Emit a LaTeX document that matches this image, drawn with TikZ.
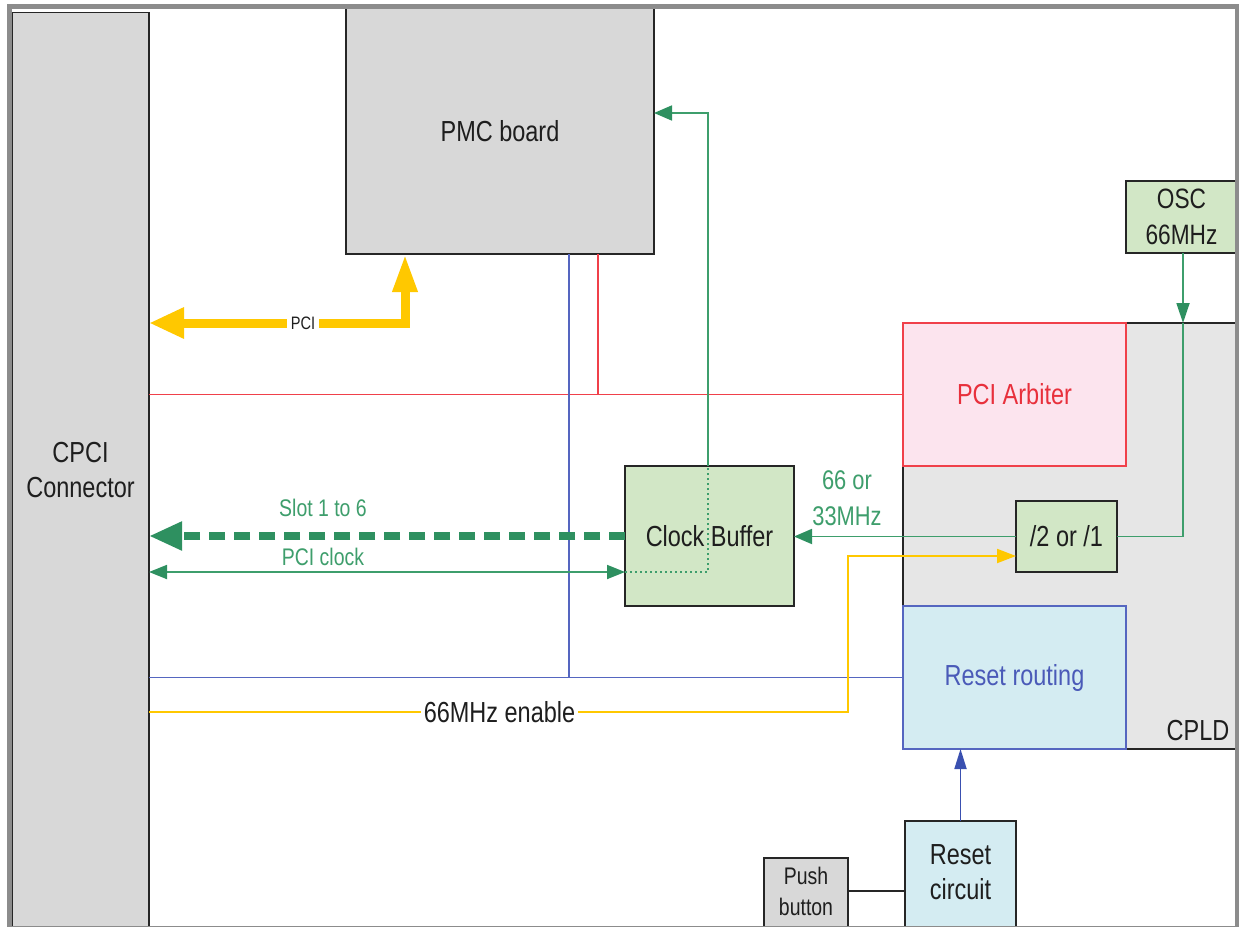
\documentclass[tikz,border=0pt]{standalone}
\usepackage{fontspec}
\setmainfont{Liberation Sans}[FakeStretch=0.81]
\usetikzlibrary{arrows.meta}
\definecolor{boxgray}{HTML}{D8D8D8}
\definecolor{cpldgray}{HTML}{E6E6E6}
\definecolor{boxgreen}{HTML}{D2E7C6}
\definecolor{boxpink}{HTML}{FCE4EE}
\definecolor{boxblue}{HTML}{D4ECF2}
\definecolor{lgreen}{HTML}{3E9E6C}
\definecolor{dgreen}{HTML}{2E9060}
\definecolor{lred}{HTML}{F0404A}
\definecolor{tred}{HTML}{E8303C}
\definecolor{lblue}{HTML}{5566C0}
\definecolor{tblue}{HTML}{4A5AB8}
\definecolor{dblue}{HTML}{3A50B0}
\definecolor{lyellow}{HTML}{FFC800}
\definecolor{framegray}{HTML}{8C8C8C}
\definecolor{txt}{HTML}{1E1E1E}
\begin{document}
\begin{tikzpicture}[x=1pt,y=-1pt,
  every node/.style={inner sep=0pt, outer sep=0pt, text=txt, align=center, font=\fontsize{29}{35}\selectfont},
  blk/.style={draw=black!85, line width=1.6pt, anchor=north west},
  gline/.style={draw=lgreen, line width=1.8pt},
  rline/.style={draw=lred, line width=1.8pt},
  bline/.style={draw=lblue, line width=1.8pt},
  yline/.style={draw=lyellow, line width=2pt},
  gtip/.style={-{Triangle[length=18pt,width=15pt,color=dgreen]}},
  smallfont/.style={font=\fontsize{24}{31}\selectfont},
]
\useasboundingbox (0,0) rectangle (1239,926);
\clip (0,0) rectangle (1239,926);
\fill[white] (0,0) rectangle (1239,926);

% boxes
\node[blk, fill=boxgray, minimum width=137pt, minimum height=916pt] (cpci) at (12,12.5) {CPCI\\Connector};
\node[blk, fill=boxgray, minimum width=308pt, minimum height=246pt] (pmc) at (346,8) {PMC board};
\node[blk, fill=cpldgray, minimum width=340pt, minimum height=426pt] (cpld) at (903,323) {};
\node (cpldt) at (1198,731) {CPLD};
\node[blk, draw=lred, fill=boxpink, text=tred, minimum width=223pt, minimum height=143pt] (arb) at (903,323) {PCI Arbiter};
\node[blk, draw=lblue, fill=boxblue, text=tblue, minimum width=223pt, minimum height=143pt] (rr) at (903,606) {Reset routing};
\node[blk, fill=boxgreen, minimum width=101pt, minimum height=71pt] (div) at (1016,501) {/2 or /1};
\node[blk, fill=boxgreen, minimum width=111pt, minimum height=72pt, font=\fontsize{28}{36}\selectfont] (osc) at (1126,181) {OSC\\66MHz};
\node[blk, fill=boxgreen, minimum width=169pt, minimum height=140pt] (cb) at (625,466) {Clock Buffer};
\node[blk, fill=boxblue, minimum width=111pt, minimum height=130pt] (rc) at (905,821) {};
\node (rct) at (960.5,872) {Reset\\circuit};
\node[blk, fill=boxgray, minimum width=84pt, minimum height=100pt] (pb) at (764,858) {};
\node[smallfont] (pbt) at (806,891) {Push\\button};

% helper coordinates
\coordinate (ypci) at (405,323);
\coordinate (rx) at (598,0);
\coordinate (bx) at (569,0);
\coordinate (pclk) at (0,572);
\coordinate (clkc) at (708,572);
\coordinate (ptop) at (0,113);
\coordinate (oscx) at (1183,0);
\coordinate (en1) at (848,712);
\coordinate (en2) at (0,556);
\coordinate (pbl) at (0,891);

% PCI bus (yellow, thick)
\draw[draw=lyellow, line width=9pt, line join=miter,
  {Triangle[length=35pt,width=29pt,color=lyellow]}-{Triangle[length=38pt,width=23pt,color=lyellow]}]
  (cpci.east |- ypci) -- (ypci) -- (ypci |- pmc.south);
\node[fill=white, inner xsep=3.5pt, inner ysep=2pt, font=\fontsize{18}{20}\selectfont] (pcil) at (303,323) {PCI};

% red arbiter lines
\draw[rline] (cpci.east |- arb.west) -- (arb.west);
\draw[rline] (pmc.south -| rx) -- (rx |- arb.west);

% blue reset lines
\draw[bline] (pmc.south -| bx) -- (bx |- rr.west);
\draw[bline] (cpci.east |- rr.west) -- (rr.west);

% clock lines
\draw[draw=dgreen, line width=8pt, dash pattern=on 16pt off 9pt,
  -{Triangle[length=33pt,width=27pt,color=dgreen]}] (cb.west) -- (cb.west -| cpci.east);
\node[smallfont, text=lgreen] (slot) at (323,508) {Slot 1 to 6};
\draw[gline, {Triangle[length=18pt,width=14pt,color=dgreen]}-{Triangle[length=18pt,width=14pt,color=dgreen]}]
  (cpci.east |- pclk) -- (cb.west |- pclk);
\node[smallfont, text=lgreen] (pclkt) at (323,557) {PCI clock};
\draw[gline, dash pattern=on 2pt off 3pt] (cb.west |- pclk) -- (clkc) -- (clkc |- cb.north);
\draw[gline, gtip] (clkc |- cb.north) -- (clkc |- ptop) -- (pmc.east |- ptop);
\draw[gline, gtip] (div.west) -- (cb.east |- div.west);
\node[text=lgreen, font=\fontsize{27}{36}\selectfont] (mhz) at (847,498) {66 or\\33MHz};
\draw[gline, -{Triangle[length=20pt,width=13pt,color=dgreen]}] (osc.south -| oscx) -- (oscx |- cpld.north);
\draw[gline] (oscx |- cpld.north) -- (oscx |- div.east) -- (div.east);

% 66MHz enable
\draw[yline, -{Triangle[length=19pt,width=14pt,color=lyellow]}] (cpci.east |- en1) -- (en1) -- (en1 |- en2) -- (div.west |- en2);
\node[fill=white, inner xsep=3pt, inner ysep=1pt] (enl) at (499.5,712) {66MHz enable};

% reset
\draw[draw=dblue, line width=1.8pt, -{Triangle[length=20pt,width=12pt,color=dblue]}] (rc.north) -- (rc.north |- rr.south);
\draw[draw=black!85, line width=1.6pt] (pb.east |- pbl) -- (rc.west |- pbl);

% frame
\draw[framegray, line width=5pt] (9.5,6) rectangle (1237,928);
\end{tikzpicture}
\end{document}
